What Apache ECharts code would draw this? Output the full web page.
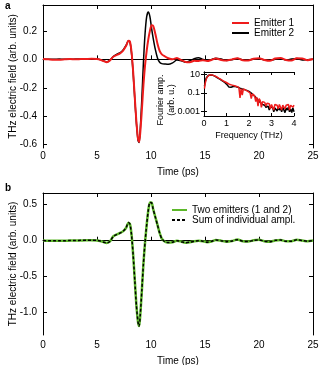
<!DOCTYPE html>
<html lang="en">
  <meta charset="utf-8" />
  <head>
    <title>THz emitters</title>
    <script src="https://cdn.jsdelivr.net/npm/echarts@6/dist/echarts.min.js"></script>
  </head>
  <style>
    * {
      margin: 0;
      padding: 0;
    }

    body {
      width: 323px;
      height: 365px;
      background: #fff;
    }

    #main {
      width: 323px;
      height: 365px;
    }
  </style>
  <body>
    <div id="main"></div>
    <script>
      // time axis (ps), shared by both panels
      const timePs = [0, 0.5, 1, 1.5, 2, 2.5, 3, 3.5, 4, 4.5, 5, 5.3, 5.6, 5.9, 6.2, 6.5, 6.8, 7.1, 7.4, 7.7,
        7.9, 8.05, 8.2, 8.35, 8.5, 8.65, 8.8, 8.9, 9.0, 9.15, 9.3, 9.45, 9.6, 9.75, 9.9, 10.05, 10.2, 10.4,
        10.6, 10.8, 11.0, 11.3, 11.6, 12.0, 12.4, 12.8, 13.2, 13.6, 14.0, 14.4, 14.8, 15.2, 15.6, 16, 16.5,
        17, 17.5, 18, 18.5, 19, 19.5, 20, 20.5, 21, 21.5, 22, 22.5, 23, 23.5, 24, 24.5, 25];

      // panel a
      const emitter1 = [0.002, 0, -0.002, -0.002, 0, 0.002, 0, 0.002, 0.003, 0.004, 0.002, -0.003, -0.012, -0.02,
        -0.008, 0.018, 0.03, 0.04, 0.06, 0.095, 0.13, 0.125, 0.05, -0.09, -0.27, -0.44, -0.56, -0.58, -0.52,
        -0.36, -0.18, -0.04, 0.06, 0.14, 0.2, 0.24, 0.235, 0.18, 0.11, 0.06, 0.035, 0.02, 0.008, 0, 0.01,
        -0.005, -0.018, -0.02, -0.01, -0.012, -0.006, -0.012, -0.004, 0.006, -0.004, -0.008, 0, 0.008,
        -0.006, -0.008, 0.004, 0.008, -0.004, -0.01, 0.006, 0.01, -0.004, -0.008, 0.008, 0.006, -0.006, 0.002];
      const emitter2 = [0, 0, 0, 0.002, 0, 0, 0.002, 0.003, 0.003, 0.003, 0.002, -0.002, -0.01, -0.018, -0.005,
        0.02, 0.035, 0.045, 0.065, 0.1, 0.13, 0.12, 0.04, -0.1, -0.28, -0.45, -0.57, -0.585, -0.5, -0.28,
        -0.02, 0.18, 0.3, 0.332, 0.3, 0.22, 0.15, 0.07, 0.01, -0.02, -0.03, -0.033, -0.035, -0.025, -0.005,
        -0.01, -0.02, -0.01, 0.005, 0.012, 0, -0.008, -0.002, 0.008, 0.002, -0.008, -0.002, 0.006, -0.004,
        -0.006, 0.002, 0.005, -0.004, -0.006, 0, 0.004, -0.004, 0.002, 0.006, -0.004, -0.002, 0];

      // panel b
      const twoEmitters = [0.002, 0, -0.002, 0, 0, 0.002, 0.002, 0.004, 0.006, 0.006, 0.004, -0.004, -0.018, -0.03,
        -0.01, 0.06, 0.085, 0.105, 0.13, 0.18, 0.25, 0.23, 0.08, -0.2, -0.55, -0.9, -1.13, -1.185, -1.05, -0.7,
        -0.32, -0.02, 0.22, 0.42, 0.53, 0.53, 0.44, 0.33, 0.22, 0.11, 0.03, -0.015, -0.025, -0.02, 0, -0.012,
        -0.028, -0.022, -0.008, 0, -0.006, -0.02, -0.01, 0.01, 0, -0.014, -0.004, 0.016, -0.008, -0.012,
        0.006, 0.012, -0.006, -0.014, 0.004, 0.01, -0.008, -0.006, 0.014, 0.002, -0.008, 0.002];
      const sumIndividual = [0.002, 0, -0.002, 0, 0, 0.002, 0.002, 0.005, 0.006, 0.007, 0.004, -0.005, -0.02, -0.032,
        -0.011, 0.058, 0.084, 0.104, 0.128, 0.182, 0.252, 0.232, 0.078, -0.205, -0.555, -0.905, -1.135, -1.19,
        -1.045, -0.695, -0.318, -0.018, 0.222, 0.422, 0.532, 0.528, 0.438, 0.328, 0.218, 0.108, 0.028, -0.016,
        -0.026, -0.02, 0.001, -0.013, -0.028, -0.021, -0.008, 0.001, -0.006, -0.02, -0.009, 0.01, 0, -0.014,
        -0.004, 0.015, -0.008, -0.012, 0.006, 0.012, -0.006, -0.014, 0.005, 0.01, -0.008, -0.006, 0.013, 0.002,
        -0.008, 0.002];

      // inset: Fourier amplitude spectra
      const freqTHz = [0.02, 0.05, 0.1, 0.15, 0.2, 0.25, 0.3, 0.35, 0.4, 0.45, 0.5, 0.55, 0.6, 0.65, 0.7, 0.75,
        0.8, 0.85, 0.9, 0.95, 1.0, 1.05, 1.1, 1.15, 1.2, 1.25, 1.3, 1.35, 1.4, 1.45, 1.5, 1.55, 1.6, 1.65, 1.7,
        1.75, 1.8, 1.85, 1.9, 1.95, 2.0, 2.05, 2.1, 2.15, 2.2, 2.25, 2.3, 2.35, 2.4, 2.45, 2.5, 2.55, 2.6, 2.65,
        2.7, 2.75, 2.8, 2.85, 2.9, 2.95, 3.0, 3.05, 3.1, 3.15, 3.2, 3.25, 3.3, 3.35, 3.4, 3.45, 3.5, 3.55, 3.6,
        3.65, 3.7, 3.75, 3.8, 3.85, 3.9, 3.95, 4.0];
      const spectrum1 = [0.3, 1.0, 3.0, 5.5, 7.5, 8.5, 8.8, 8.6, 8.0, 7.2, 6.4, 5.5, 4.6, 3.9, 3.3, 2.8, 2.4, 2.0,
        1.7, 1.5, 1.3, 1.1, 0.95, 0.8, 0.75, 0.7, 0.65, 0.6, 0.55, 0.5, 0.45, 0.4, 0.03, 0.3, 0.06, 0.28, 0.24,
        0.2, 0.17, 0.15, 0.12, 0.1, 0.025, 0.08, 0.06, 0.05, 0.012, 0.035, 0.004, 0.025, 0.015, 0.003, 0.012,
        0.008, 0.01, 0.004, 0.008, 0.005, 0.007, 0.002, 0.006, 0.005, 0.0015, 0.006, 0.004, 0.005, 0.002,
        0.006, 0.004, 0.0015, 0.005, 0.006, 0.002, 0.005, 0.004, 0.006, 0.0015, 0.005, 0.006, 0.003, 0.005];
      const spectrum2 = [0.5, 1.5, 4.0, 6.5, 8.0, 8.5, 8.6, 8.3, 7.8, 7.0, 6.0, 5.0, 4.2, 3.5, 3.0, 2.5, 2.1, 1.8,
        1.5, 1.2, 0.9, 0.6, 0.45, 0.4, 0.42, 0.45, 0.5, 0.52, 0.5, 0.46, 0.42, 0.38, 0.33, 0.3, 0.27, 0.25,
        0.23, 0.21, 0.19, 0.17, 0.15, 0.12, 0.1, 0.08, 0.06, 0.045, 0.035, 0.025, 0.018, 0.013, 0.01, 0.007,
        0.006, 0.004, 0.005, 0.003, 0.002, 0.004, 0.0015, 0.003, 0.002, 0.003, 0.001, 0.0025, 0.002, 0.0012,
        0.003, 0.0015, 0.0025, 0.001, 0.003, 0.002, 0.0008, 0.0025, 0.0015, 0.003, 0.001, 0.002, 0.0008,
        0.0025, 0.001];

      const yTicksA = [-0.6, -0.4, -0.2, 0, 0.2];
      const yTicksB = [-1, -0.5, 0, 0.5];
      const yTicksInset = [0.001, 0.1, 10];

      const font = "Liberation Sans";
      const black = "#000";
      const red = "#ee1c1c";
      const green = "#5cb82a";

      function pairs(xs, ys) {
        return xs.map((x, i) => [x, ys[i]]);
      }

      function mainX(gridIndex, labelMargin, nameGap) {
        return {
          gridIndex: gridIndex,
          type: "value",
          min: 0,
          max: 25,
          interval: 5,
          axisLine: { lineStyle: { color: black, width: 1 } },
          axisTick: { inside: true, length: 4, lineStyle: { color: black } },
          axisLabel: { fontSize: 10, color: black, fontFamily: font, margin: labelMargin },
          splitLine: { show: false },
          name: "Time (ps)",
          nameLocation: "middle",
          nameGap: nameGap,
          nameMoveOverlap: false,
          nameTextStyle: { fontSize: 10, color: black, fontFamily: font },
        };
      }

      function mirrorX(gridIndex, min, max, interval, tickLen) {
        return {
          gridIndex: gridIndex,
          type: "value",
          position: "top",
          min: min,
          max: max,
          interval: interval,
          axisLine: { onZero: false, lineStyle: { color: black, width: 1 } },
          axisTick: { inside: true, length: tickLen, lineStyle: { color: black } },
          axisLabel: { show: false },
          splitLine: { show: false },
        };
      }

      function mainY(gridIndex, min, max, ticks) {
        return {
          gridIndex: gridIndex,
          type: "value",
          min: min,
          max: max,
          axisLine: { onZero: false, lineStyle: { color: black, width: 1 } },
          axisTick: { inside: true, length: 4, customValues: ticks, lineStyle: { color: black } },
          axisLabel: {
            fontSize: 10,
            color: black,
            fontFamily: font,
            margin: 6,
            customValues: ticks,
            formatter: (v) => v.toFixed(1),
          },
          splitLine: { show: false },
          name: "THz electric field (arb. units)",
          nameLocation: "middle",
          nameGap: 25,
          nameMoveOverlap: false,
          nameTextStyle: { fontSize: 10, color: black, fontFamily: font },
        };
      }

      function mirrorY(gridIndex, min, max, ticks) {
        return {
          gridIndex: gridIndex,
          type: "value",
          position: "right",
          min: min,
          max: max,
          axisLine: { show: true, onZero: false, lineStyle: { color: black, width: 1 } },
          axisTick: { show: true, inside: true, length: 4, customValues: ticks, lineStyle: { color: black } },
          axisLabel: { show: false },
          splitLine: { show: false },
        };
      }

      const legendCommon = {
        orient: "vertical",
        padding: 0,
        itemGap: 0,
        itemStyle: { opacity: 0 },
      };

      const chart = echarts.init(document.getElementById("main"), null, { renderer: "canvas" });

      const option = {
        animation: false,
        backgroundColor: "#fff",
        textStyle: { fontFamily: font },
        title: [
          { text: "a", left: 0, top: -4, textStyle: { fontSize: 10, fontWeight: "bold", color: black, fontFamily: font } },
          { text: "b", left: 0, top: 178, textStyle: { fontSize: 10, fontWeight: "bold", color: black, fontFamily: font } },
        ],
        grid: [
          { left: 43, right: 10, top: 5, height: 143, outerBoundsMode: "none" },
          { left: 43, right: 10, top: 193, height: 142, outerBoundsMode: "none" },
          {
            left: 204,
            right: 29,
            top: 72,
            height: 44,
            outerBoundsMode: "none",
            show: true,
            backgroundColor: "#fff",
            borderWidth: 0,
            z: 5,
          },
        ],
        legend: [
          Object.assign({}, legendCommon, {
            data: ["Emitter 1", "Emitter 2"],
            left: 231,
            top: 18,
            itemWidth: 17,
            itemHeight: 10,
            textStyle: { fontSize: 10, lineHeight: 10, color: black, fontFamily: font },
          }),
          Object.assign({}, legendCommon, {
            data: ["Two emitters (1 and 2)", "Sum of individual ampl."],
            left: 171,
            top: 205,
            itemWidth: 15,
            itemHeight: 9,
            textStyle: { fontSize: 10, lineHeight: 9, color: black, fontFamily: font },
          }),
        ],
        xAxis: [
          mainX(0, 3, 19),
          mirrorX(0, 0, 25, 5, 4),
          mainX(1, 5, 21),
          mirrorX(1, 0, 25, 5, 4),
          {
            gridIndex: 2,
            type: "value",
            min: 0,
            max: 4,
            interval: 1,
            z: 6,
            axisLine: { lineStyle: { color: black, width: 1 } },
            axisTick: { inside: true, length: 3, lineStyle: { color: black } },
            axisLabel: { fontSize: 9, color: black, fontFamily: font, margin: 3 },
            splitLine: { show: false },
            name: "Frequency (THz)",
            nameLocation: "middle",
            nameGap: 15,
            nameMoveOverlap: false,
            nameTextStyle: { fontSize: 9, color: black, fontFamily: font },
          },
          Object.assign(mirrorX(2, 0, 4, 1, 3), { z: 6 }),
        ],
        yAxis: [
          mainY(0, -0.623, 0.382, yTicksA),
          mirrorY(0, -0.623, 0.382, yTicksA),
          mainY(1, -1.31, 0.663, yTicksB),
          mirrorY(1, -1.31, 0.663, yTicksB),
          {
            gridIndex: 2,
            type: "log",
            logBase: 10,
            min: 0.00035,
            max: 17.6,
            z: 6,
            axisLine: { show: true, lineStyle: { color: black, width: 1 } },
            axisTick: { inside: true, length: 3, customValues: yTicksInset, lineStyle: { color: black } },
            axisLabel: {
              fontSize: 9,
              color: black,
              fontFamily: font,
              margin: 4,
              customValues: yTicksInset,
              formatter: (v) => String(Number(v.toPrecision(3))),
            },
            splitLine: { show: false },
            name: "Fourier amp.\n(arb. u.)",
            nameLocation: "middle",
            nameGap: 27,
            nameMoveOverlap: false,
            nameTextStyle: { fontSize: 9, color: black, fontFamily: font, lineHeight: 11, padding: [0, 12, 0, 0] },
          },
          {
            gridIndex: 2,
            type: "log",
            logBase: 10,
            min: 0.00035,
            max: 17.6,
            position: "right",
            z: 6,
            axisLine: { show: true, lineStyle: { color: black, width: 1 } },
            axisTick: { show: true, inside: true, length: 3, customValues: yTicksInset, lineStyle: { color: black } },
            axisLabel: { show: false },
            splitLine: { show: false },
          },
        ],
        series: [
          {
            name: "Emitter 2",
            type: "line",
            xAxisIndex: 0,
            yAxisIndex: 0,
            data: pairs(timePs, emitter2),
            symbol: "none",
            smooth: 0.25,
            z: 2,
            lineStyle: { color: black, width: 1.5 },
            itemStyle: { color: black },
          },
          {
            name: "Emitter 1",
            type: "line",
            xAxisIndex: 0,
            yAxisIndex: 0,
            data: pairs(timePs, emitter1),
            symbol: "none",
            smooth: 0.25,
            z: 3,
            lineStyle: { color: red, width: 2 },
            itemStyle: { color: red },
          },
          {
            name: "Two emitters (1 and 2)",
            type: "line",
            xAxisIndex: 2,
            yAxisIndex: 2,
            data: pairs(timePs, twoEmitters),
            symbol: "none",
            smooth: 0.25,
            z: 2,
            lineStyle: { color: green, width: 2.5 },
            itemStyle: { color: green },
          },
          {
            name: "Sum of individual ampl.",
            type: "line",
            xAxisIndex: 2,
            yAxisIndex: 2,
            data: pairs(timePs, sumIndividual),
            symbol: "none",
            smooth: 0.25,
            z: 3,
            lineStyle: { color: black, width: 1.5, type: [3, 2] },
            itemStyle: { color: black },
          },
          {
            name: "spectrum 2",
            type: "line",
            xAxisIndex: 4,
            yAxisIndex: 4,
            data: pairs(freqTHz, spectrum2),
            symbol: "none",
            z: 7,
            lineStyle: { color: black, width: 1.5 },
          },
          {
            name: "spectrum 1",
            type: "line",
            xAxisIndex: 4,
            yAxisIndex: 4,
            data: pairs(freqTHz, spectrum1),
            symbol: "none",
            z: 8,
            lineStyle: { color: red, width: 1.5 },
          },
        ],
      };

      chart.setOption(option);
    </script>
  </body>
</html>
